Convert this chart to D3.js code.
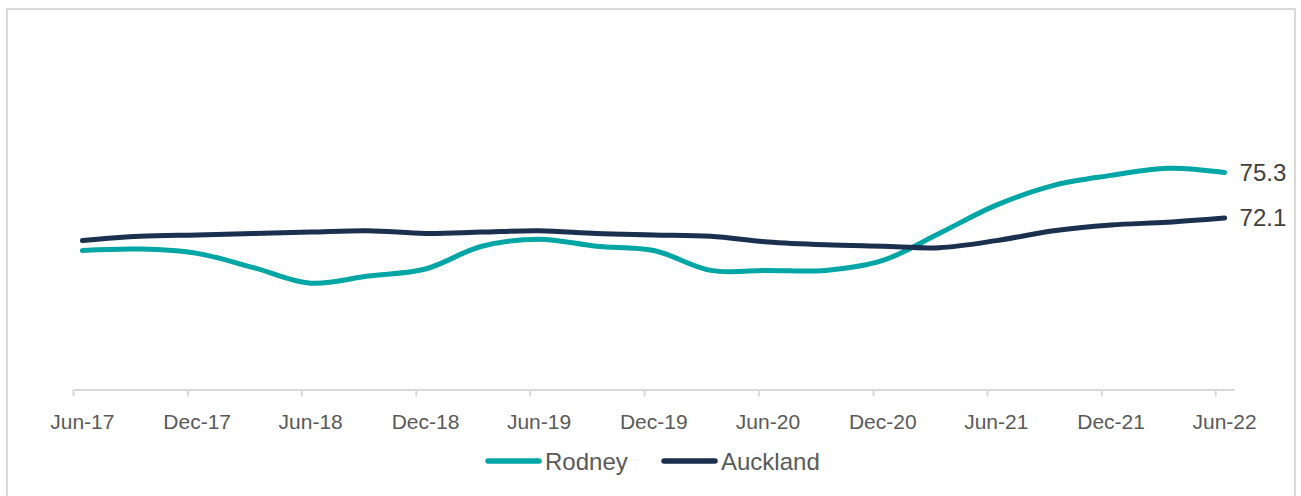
<!DOCTYPE html>
<html>
<head>
<meta charset="utf-8">
<script src="https://cdn.jsdelivr.net/npm/d3@7"></script>
<style>
  body { margin: 0; background: #fff; }
  text { font-family: "Liberation Sans", Arial, sans-serif; }
</style>
</head>
<body>
<div id="chart"></div>
<script>
// quarterly observations, Jun-17 .. Jun-22
const months = ["2017-06","2017-09","2017-12","2018-03","2018-06","2018-09","2018-12",
  "2019-03","2019-06","2019-09","2019-12","2020-03","2020-06","2020-09","2020-12",
  "2021-03","2021-06","2021-09","2021-12","2022-03","2022-06"];
const rodney = [69.8, 69.9, 69.6, 68.6, 67.5, 68.0, 68.5, 70.1, 70.6, 70.1, 69.8,
  68.4, 68.4, 68.4, 69.1, 71.0, 73.0, 74.4, 75.1, 75.6, 75.3];
const auckland = [70.5, 70.8, 70.9, 71.0, 71.1, 71.2, 71.0, 71.1, 71.2, 71.0, 70.9,
  70.8, 70.4, 70.2, 70.1, 70.0, 70.5, 71.2, 71.6, 71.8, 72.1];
const seriesNames = ["Rodney", "Auckland"];
const seriesColors = ["#00A6A6", "#1B2F4E"];
const tickMonths = ["2017-06","2017-12","2018-06","2018-12","2019-06","2019-12",
  "2020-06","2020-12","2021-06","2021-12","2022-06"];

const W = 1301, H = 496;
const parseMonth = d3.timeParse("%Y-%m");
const fmt = d3.timeFormat("%b-%y");

const svg = d3.select("#chart").append("svg")
    .attr("width", W)
    .attr("height", H);

// chart frame
svg.append("rect")
    .attr("x", 7).attr("y", 9)
    .attr("width", 1288).attr("height", 500)
    .attr("fill", "none")
    .attr("stroke", "#d9d9d9")
    .attr("stroke-width", 2);

const x = d3.scaleTime()
    .domain([parseMonth("2017-06"), parseMonth("2022-07")])
    .range([73, 1234]);

const y = d3.scaleLinear()
    .domain([60, 85])
    .range([389.5, 35]);

// middle of a month
function mid(m) {
  const d = parseMonth(m);
  return (x(d) + x(d3.timeMonth.offset(d, 1))) / 2;
}

// x axis
const axis = svg.append("g")
    .attr("transform", "translate(0,389.5)")
    .call(d3.axisBottom(x).tickValues(tickMonths.map(parseMonth)).tickSize(7).tickSizeOuter(0).tickFormat(""));
axis.select(".domain").attr("stroke", "#d9d9d9").attr("stroke-width", 2);
axis.selectAll(".tick line").attr("stroke", "#d9d9d9").attr("stroke-width", 2);

svg.append("g").selectAll("text")
  .data(tickMonths)
  .enter()
  .append("text")
    .attr("x", d => mid(d))
    .attr("y", 428.5)
    .attr("text-anchor", "middle")
    .attr("font-size", "21px")
    .attr("fill", "#595959")
    .text(d => fmt(parseMonth(d)));

// lines
const line = d3.line()
    .x(d => mid(d.m))
    .y(d => y(d.v))
    .curve(d3.curveCatmullRom.alpha(0.5));

[rodney, auckland].forEach((vals, i) => {
  const pts = months.map((m, j) => ({ m: m, v: vals[j] }));
  svg.append("path")
      .datum(pts)
      .attr("d", line)
      .attr("fill", "none")
      .attr("stroke", seriesColors[i])
      .attr("stroke-width", 5)
      .attr("stroke-linecap", "round");
  // end label
  const last = pts[pts.length - 1];
  svg.append("text")
      .attr("x", mid(last.m) + 15)
      .attr("y", y(last.v) + 8.5)
      .attr("font-size", "24px")
      .attr("fill", "#404040")
      .text(last.v.toFixed(1));
});

// legend
const legendX = [486, 662];
seriesNames.forEach((name, i) => {
  const g = svg.append("g").attr("transform", `translate(${legendX[i]},461)`);
  g.append("line")
      .attr("x1", 2).attr("x2", 53)
      .attr("stroke", seriesColors[i])
      .attr("stroke-width", 5.5)
      .attr("stroke-linecap", "round");
  g.append("text")
      .attr("x", 59)
      .attr("y", 9)
      .attr("font-size", "24px")
      .attr("fill", "#595959")
      .text(name);
});
</script>
</body>
</html>
